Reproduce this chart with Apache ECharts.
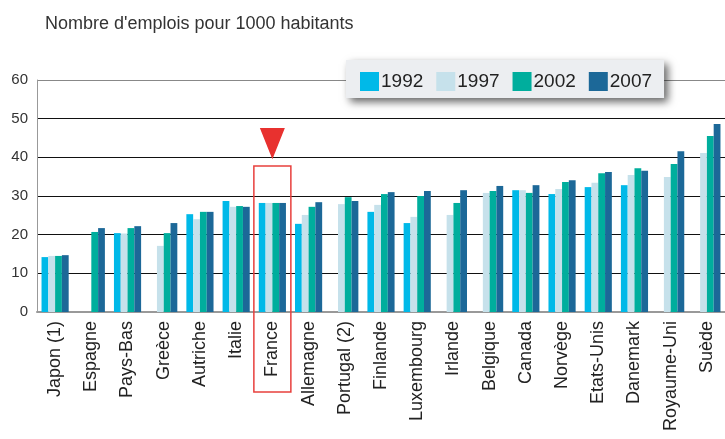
<!DOCTYPE html>
<html>
<head>
<meta charset="utf-8">
<script src="https://cdn.jsdelivr.net/npm/echarts@6/dist/echarts.min.js"></script>
<style>
    html, body { margin: 0; padding: 0; background: #fff; }
    #chart { width: 725px; height: 439px; }
</style>
</head>
<body>
<div id="chart"></div>
<script>
var countries = ['Japon (1)', 'Espagne', 'Pays-Bas', 'Greèce', 'Autriche', 'Italie', 'France',
    'Allemagne', 'Portugal (2)', 'Finlande', 'Luxembourg', 'Irlande', 'Belgique', 'Canada',
    'Norvège', 'Etats-Unis', 'Danemark', 'Royaume-Uni', 'Suède'];

var years = ['1992', '1997', '2002', '2007'];

var v1992 = [14.2, '-', 20.4, '-', 25.3, 28.7, 28.2, 22.8, '-', 25.9, 23.0, '-', '-', 31.5, 30.5, 32.3, 32.8, '-', '-'];
var v1997 = [14.5, '-', 20.3, 17.1, 24.0, 27.2, 28.2, 25.1, 27.9, 27.7, 24.6, 25.1, 30.8, 31.5, 31.8, 33.4, 35.4, 34.9, 41.1];
var v2002 = [14.5, 20.7, 21.7, 20.4, 25.9, 27.4, 28.2, 27.2, 29.7, 30.5, 30.0, 28.2, 31.3, 30.8, 33.6, 35.9, 37.2, 38.3, 45.5];
var v2007 = [14.7, 21.7, 22.2, 23.0, 25.9, 27.2, 28.2, 28.4, 28.7, 31.0, 31.3, 31.5, 32.6, 32.8, 34.1, 36.2, 36.5, 41.6, 48.6];

var yTicks = [0, 10, 20, 30, 40, 50, 60];

var colors = ['#00b9e8', '#c6e1eb', '#00ae9d', '#1c6898'];
var font = 'Liberation Sans, Arial, sans-serif';

var myChart = echarts.init(document.getElementById('chart'));

var option = {
    animation: false,
    color: colors,
    title: {
        text: "Nombre d'emplois pour 1000 habitants",
        left: 40,
        top: 10,
        textStyle: {
            fontFamily: font,
            fontSize: 18,
            fontWeight: 'normal',
            color: '#333'
        }
    },
    legend: {
        data: years,
        left: 346,
        top: 60,
        padding: [12, 12, 7, 14],
        itemWidth: 19,
        itemHeight: 19,
        itemGap: 13,
        icon: 'rect',
        backgroundColor: '#eceef1',
        shadowBlur: 8,
        shadowColor: 'rgba(0,0,0,0.6)',
        shadowOffsetX: 4,
        shadowOffsetY: 4,
        textStyle: {
            fontFamily: font,
            fontSize: 19,
            color: '#222',
            padding: [0, 0, 0, -3]
        }
    },
    grid: {
        left: 37,
        right: 0,
        top: 80,
        bottom: 127
    },
    xAxis: {
        type: 'category',
        data: countries,
        axisTick: { show: false },
        axisLine: { lineStyle: { color: '#999', width: 2 } },
        axisLabel: {
            rotate: 90,
            interval: 0,
            margin: 9,
            fontFamily: font,
            fontSize: 18,
            color: '#222'
        }
    },
    yAxis: {
        type: 'value',
        min: yTicks[0],
        max: yTicks[yTicks.length - 1],
        interval: 10,
        axisLine: { show: true, lineStyle: { color: '#999', width: 1 } },
        axisTick: { show: false },
        axisLabel: {
            margin: 9,
            fontFamily: font,
            fontSize: 15,
            color: '#333'
        },
        splitLine: {
            lineStyle: { color: ['#111', '#111', '#111', '#111', '#111', '#111', '#888'], width: 1 }
        }
    },
    series: [
        { name: years[0], type: 'bar', data: v1992, barGap: 0, barCategoryGap: '25%' },
        { name: years[1], type: 'bar', data: v1997, barGap: 0, barCategoryGap: '25%' },
        { name: years[2], type: 'bar', data: v2002, barGap: 0, barCategoryGap: '25%' },
        { name: years[3], type: 'bar', data: v2007, barGap: 0, barCategoryGap: '25%' }
    ]
};
myChart.setOption(option);

// highlight France: red frame and arrow, placed from the axis scale
var fx = myChart.convertToPixel({ xAxisIndex: 0 }, 'France');
var y40 = myChart.convertToPixel({ yAxisIndex: 0 }, 40);
myChart.setOption({
    graphic: [
        {
            type: 'rect',
            shape: { x: fx - 18.5, y: 166, width: 37, height: 226 },
            style: { fill: 'none', stroke: '#e8403d', lineWidth: 1.5 },
            z: 10
        },
        {
            type: 'polygon',
            shape: { points: [[fx - 12.5, 128], [fx + 12.5, 128], [fx, y40 + 2]] },
            style: { fill: '#e8312f' },
            z: 10
        }
    ]
});
</script>
</body>
</html>
